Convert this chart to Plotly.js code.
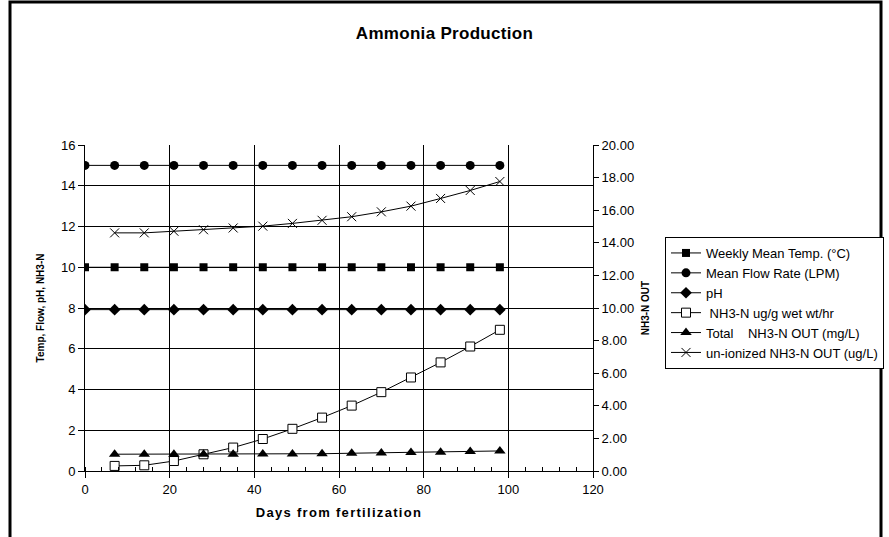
<!DOCTYPE html>
<html>
<head>
<meta charset="utf-8">
<script src="https://cdn.plot.ly/plotly-3.0.1.min.js"></script>
<style>
html,body{margin:0;padding:0;background:#fff;}
#chart{width:889px;height:537px;}
#chart .gtitle{letter-spacing:0.3px;}
#chart .xtitle{letter-spacing:1.3px;}
</style>
</head>
<body>
<div id="chart"></div>
<script>
// Data
var daysAll = [0, 7, 14, 21, 28, 35, 42, 49, 56, 63, 70, 77, 84, 91, 98];
var daysNH3 = [7, 14, 21, 28, 35, 42, 49, 56, 63, 70, 77, 84, 91, 98];
var weeklyTemp = [10, 10, 10, 10, 10, 10, 10, 10, 10, 10, 10, 10, 10, 10, 10];
var meanFlow = [15, 15, 15, 15, 15, 15, 15, 15, 15, 15, 15, 15, 15, 15, 15];
var pH = [7.92, 7.92, 7.92, 7.92, 7.92, 7.92, 7.92, 7.92, 7.92, 7.92, 7.92, 7.92, 7.92, 7.92, 7.92];
var nh3Production = [0.25, 0.28, 0.49, 0.82, 1.15, 1.57, 2.07, 2.62, 3.21, 3.87, 4.59, 5.33, 6.11, 6.93];
var totalNH3Out = [1.03, 1.03, 1.03, 1.03, 1.03, 1.05, 1.05, 1.06, 1.09, 1.11, 1.13, 1.15, 1.19, 1.23];
var unionizedNH3Out = [14.61, 14.61, 14.71, 14.80, 14.91, 15.02, 15.19, 15.38, 15.60, 15.90, 16.25, 16.72, 17.21, 17.76];
var seriesNames = ['Weekly Mean Temp. (°C)', 'Mean Flow Rate (LPM)', 'pH',
  '\u00a0NH3-N ug/g wet wt/hr', 'Total\u00a0\u00a0\u00a0\u00a0NH3-N OUT (mg/L)', 'un-ionized NH3-N OUT (ug/L)'];
var leftTicks = [0, 2, 4, 6, 8, 10, 12, 14, 16];
var rightTicks = [0, 2, 4, 6, 8, 10, 12, 14, 16, 18, 20];
var xTicks = [0, 20, 40, 60, 80, 100, 120];

var FONT = 'Arial, "Liberation Sans", sans-serif';
var lineStyle = {color: '#000', width: 1};

var traces = [
  {x: daysAll, y: weeklyTemp, name: seriesNames[0], mode: 'lines+markers', line: lineStyle,
   marker: {symbol: 'square', size: 8, color: '#000'}},
  {x: daysAll, y: meanFlow, name: seriesNames[1], mode: 'lines+markers', line: lineStyle,
   marker: {symbol: 'circle', size: 9, color: '#000'}},
  {x: daysAll, y: pH, name: seriesNames[2], mode: 'lines+markers', line: lineStyle,
   marker: {symbol: 'diamond', size: 9, color: '#000'}},
  {x: daysNH3, y: nh3Production, name: seriesNames[3], mode: 'lines+markers', line: lineStyle,
   marker: {symbol: 'square', size: 9, color: '#fff', line: {color: '#000', width: 1}}},
  {x: daysNH3, y: totalNH3Out, name: seriesNames[4], mode: 'lines+markers', line: lineStyle, yaxis: 'y2',
   marker: {symbol: 'triangle-up', size: 10, color: '#000'}},
  {x: daysNH3, y: unionizedNH3Out, name: seriesNames[5], mode: 'lines+markers', line: lineStyle, yaxis: 'y2',
   marker: {symbol: 'x-thin-open', size: 9, color: '#000', line: {color: '#000', width: 1}}}
];

var layout = {
  width: 889, height: 537,
  margin: {l: 85, r: 296, t: 145, b: 66, pad: 0, autoexpand: false},
  paper_bgcolor: '#fff', plot_bgcolor: '#fff',
  font: {family: FONT, size: 13, color: '#000'},
  showlegend: true,
  title: {text: '<b>Ammonia Production</b>', font: {family: FONT, size: 17, color: '#000'},
          x: 0.5, xref: 'container', xanchor: 'center', y: 1 - 33 / 537, yref: 'container', yanchor: 'middle'},
  xaxis: {
    range: [0, 120], tickvals: xTicks, ticktext: xTicks.map(String),
    showgrid: true, gridcolor: '#000', gridwidth: 1,
    showline: true, linecolor: '#000', linewidth: 1,
    ticks: 'outside', ticklen: 6, tickcolor: '#000',
    minor: {dtick: 4, tick0: 0, ticks: 'inside', ticklen: 4, tickcolor: '#000', showgrid: false},
    zeroline: false, tickfont: {family: FONT, size: 13}, automargin: false,
    title: {text: '<b>Days from fertilization</b>', font: {family: FONT, size: 13}, standoff: 12}
  },
  yaxis: {
    range: [0, 16], tickvals: leftTicks, ticktext: leftTicks.map(String),
    showgrid: true, gridcolor: '#000', gridwidth: 1,
    showline: true, linecolor: '#000', linewidth: 1,
    ticks: 'outside', ticklen: 6, tickcolor: '#000',
    zeroline: false, tickfont: {family: FONT, size: 13}, automargin: false,
    title: {text: '<b>Temp, Flow, pH, NH3-N</b>', font: {family: FONT, size: 10}, standoff: 14}
  },
  yaxis2: {
    range: [0, 20], tickvals: rightTicks, ticktext: rightTicks.map(function (v) { return v.toFixed(2); }),
    overlaying: 'y', side: 'right', showgrid: false,
    showline: true, linecolor: '#000', linewidth: 1,
    ticks: 'outside', ticklen: 5, tickcolor: '#000',
    zeroline: false, tickfont: {family: FONT, size: 13}, automargin: false,
    title: {text: '<b>NH3-N OUT</b>', font: {family: FONT, size: 10}, standoff: 8}
  },
  legend: {
    x: (665 - 85) / 508, y: (471 - 303) / 326, xanchor: 'left', yanchor: 'middle',
    bordercolor: '#000', borderwidth: 1, bgcolor: '#fff',
    font: {family: FONT, size: 13, color: '#000'}, tracegroupgap: 0, itemwidth: 30
  },
  shapes: [
    {type: 'rect', xref: 'paper', yref: 'paper',
     x0: (10 - 85) / 508, x1: (881 - 85) / 508, y0: (471 - 560) / 326, y1: (471 - 2) / 326,
     line: {color: '#000', width: 3}, fillcolor: 'rgba(0,0,0,0)', layer: 'below'}
  ]
};

Plotly.newPlot('chart', traces, layout, {staticPlot: true, displayModeBar: false});
</script>
</body>
</html>
